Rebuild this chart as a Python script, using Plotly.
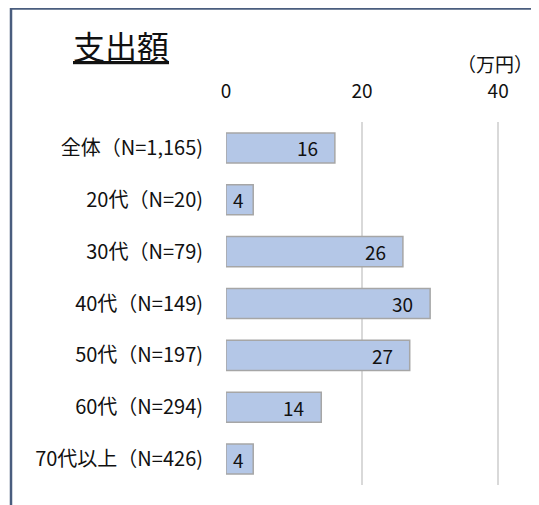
import plotly.graph_objects as go

categories = ["全体（N=1,165)", "20代（N=20)", "30代（N=79)", "40代（N=149)",
              "50代（N=197)", "60代（N=294)", "70代以上（N=426)"]
values = [16, 4, 26, 30, 27, 14, 4]
tick_vals = [0, 20, 40]
title_text = "支出額"
unit_text = "（万円）"

FONT = "Noto Sans CJK JP, Noto Sans, sans-serif"

# figure is placed at page offset (8, 8) by the default body margin
L, T, B = 218, 114, 20
W, H = 531, 497
PW, PH = W - L, H - T - B
XMAX = 46.0
PX_PER_UNIT = PW / XMAX


def px(x):
    return (x - L) / PW


def py(y):
    return 1 + (T - y) / PH


fig = go.Figure(go.Bar(
    x=values,
    y=categories,
    orientation="h",
    marker=dict(color="#b4c7e7", line=dict(color="#a6a6a6", width=1.5)),
    hoverinfo="x+y",
))

# data labels, "inside end" with Excel-like padding
label_annots = []
for cat, v in zip(categories, values):
    s = str(v)
    tw = 11 * len(s)
    bar_w = v * PX_PER_UNIT
    pad = min(15, max(2, (bar_w - tw) / 2 - 1))
    label_annots.append(dict(
        x=v, y=cat, xref="x", yref="y", text=s, showarrow=False,
        xanchor="right", yanchor="middle", xshift=-pad,
        font=dict(size=19, color="#111111", family=FONT),
    ))

fig.update_layout(
    width=W, height=H,
    margin=dict(l=L, r=0, t=T, b=B),
    paper_bgcolor="white", plot_bgcolor="white",
    bargap=0.42,
    showlegend=False,
    font=dict(family=FONT, size=19, color="#111111"),
    xaxis=dict(
        range=[0, XMAX], side="top", tickvals=tick_vals,
        showgrid=True, gridcolor="#d9d9d9", gridwidth=1.5,
        zeroline=False, showline=False, ticks="",
        ticklabelstandoff=19,
        tickfont=dict(size=19, color="#111111"),
        fixedrange=True,
    ),
    yaxis=dict(
        autorange="reversed", showgrid=False, zeroline=False,
        showline=False, ticks="", ticklabelstandoff=22,
        tickfont=dict(size=20, color="#111111"),
        fixedrange=True,
    ),
    annotations=label_annots + [
        dict(text="<u>" + title_text + "</u>", xref="paper", yref="paper",
             x=px(63), y=py(37),
             xanchor="left", yanchor="middle", showarrow=False,
             font=dict(size=32, color="#111111", family=FONT)),
        dict(text=unit_text, xref="paper", yref="paper",
             x=px(447), y=py(55),
             xanchor="left", yanchor="middle", showarrow=False,
             font=dict(size=19, color="#111111", family=FONT)),
    ],
    shapes=[
        dict(type="rect", xref="paper", yref="paper",
             x0=px(3), x1=1.2,
             y0=-0.3, y1=py(0.5),
             line=dict(color="#4a5d7e", width=2.5), fillcolor="rgba(0,0,0,0)",
             layer="above"),
    ],
)

fig.write_html("out.html")
